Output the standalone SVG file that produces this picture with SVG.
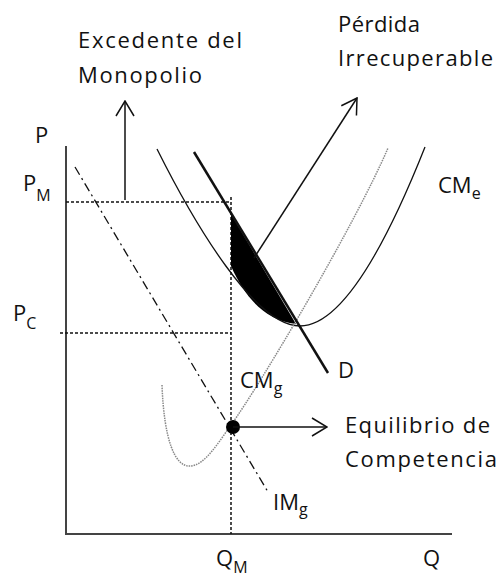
<svg xmlns="http://www.w3.org/2000/svg" width="500" height="579" viewBox="0 0 500 579">
<style>
text{font-family:"Open Sans","Liberation Sans",sans-serif;fill:#111;font-size:22px}
.sub{font-size:16px}
.axis{stroke:#444;stroke-width:2;fill:none}
.dash{stroke:#111;stroke-width:1.5;stroke-dasharray:3 2;fill:none}
.arrow{stroke:#111;stroke-width:1.5;fill:none;marker-end:url(#open)}
</style>
<defs>
<marker id="open" viewBox="0 0 17 20" refX="16" refY="10" markerWidth="17" markerHeight="20" markerUnits="userSpaceOnUse" orient="auto">
<path d="M1,1 L16,10 L1,19" fill="none" stroke="#111" stroke-width="1.5"/>
</marker>
</defs>
<rect width="500" height="579" fill="#fff"/>
<g id="axes">
<line class="axis" x1="66" y1="146" x2="66" y2="535"/>
<line class="axis" x1="65" y1="534" x2="452" y2="534"/>
<text x="35" y="143">P</text>
<text x="23" y="191">P<tspan class="sub" dy="10">M</tspan></text>
<text x="13" y="321">P<tspan class="sub" dy="8">C</tspan></text>
<text x="216" y="566">Q<tspan class="sub" dy="7">M</tspan></text>
<text x="423" y="566">Q</text>
</g>
<g id="guides">
<line class="dash" x1="66" y1="202" x2="231" y2="202"/>
<line class="dash" x1="60" y1="333" x2="231" y2="333"/>
<line class="dash" x1="231" y1="197" x2="231" y2="534"/>
</g>
<g id="deadweight">
<path d="M231,214 L231,266 C245,298 265,320 296,324 Z" fill="#000"/>
</g>
<g id="CMe">
<path d="M157,149 C195,225 255,326 300,326 C350,326 400,210 425,147" fill="none" stroke="#111" stroke-width="1.3"/>
<text x="438" y="193">CM<tspan class="sub" dy="6">e</tspan></text>
</g>
<g id="CMg">
<path d="M162,385 C164,440 175,467 190,466 C205,466 220,440 231,425 C260,385 355,225 388,148" fill="none" stroke="#888" stroke-width="1.5" stroke-dasharray="1.5 1"/>
<text x="240" y="388">CM<tspan class="sub" dy="6">g</tspan></text>
</g>
<g id="IMg">
<line x1="75" y1="167" x2="268" y2="492" stroke="#111" stroke-width="1.3" stroke-dasharray="9 4 2 4"/>
<text x="273" y="510">IM<tspan class="sub" dy="5">g</tspan></text>
</g>
<g id="D">
<line x1="194" y1="152" x2="328" y2="373" stroke="#111" stroke-width="2.5"/>
<text x="338" y="378">D</text>
</g>
<g id="equilibrium">
<circle cx="233" cy="427" r="7" fill="#000"/>
</g>
<g id="labels">
<text x="78" y="48" textLength="164">Excedente del</text>
<text x="78" y="83" textLength="124">Monopolio</text>
<text x="338" y="32" textLength="82">Pérdida</text>
<text x="338" y="66" textLength="155">Irrecuperable</text>
<text x="345" y="433" textLength="145">Equilibrio de</text>
<text x="345" y="467" textLength="152">Competencia</text>
</g>
<g id="connectors">
<line class="arrow" x1="125" y1="200" x2="125" y2="101"/>
<line class="arrow" x1="254" y1="258" x2="357" y2="98"/>
<line class="arrow" x1="233" y1="427" x2="327" y2="427"/>
</g>
</svg>
